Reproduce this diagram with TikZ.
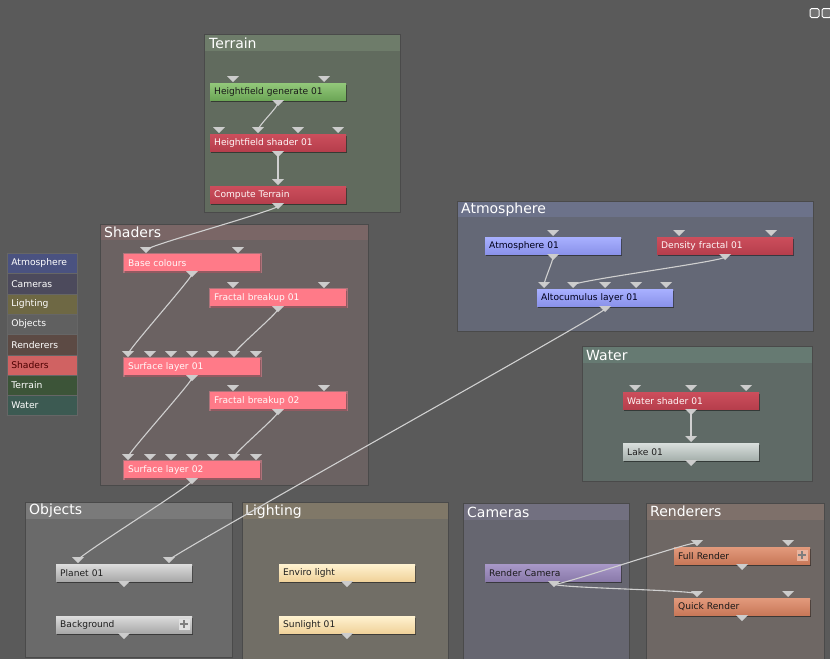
\documentclass[tikz,border=0pt]{standalone}
\usepackage{fontspec}
\setmainfont{DejaVu Sans}
\usetikzlibrary{shadows}
\definecolor{bgc}{HTML}{5A5A5A}
\definecolor{linkc}{HTML}{D0D0D0}
\definecolor{portc}{HTML}{CCCCCC}
\definecolor{pborder}{HTML}{4A4A4A}
% panels
\definecolor{terH}{HTML}{6E7C6A}\definecolor{terB}{HTML}{616B5E}
\definecolor{shaH}{HTML}{7A6666}\definecolor{shaB}{HTML}{6B6262}
\definecolor{atmH}{HTML}{6C728A}\definecolor{atmB}{HTML}{646876}
\definecolor{watH}{HTML}{667A72}\definecolor{watB}{HTML}{5F6A66}
\definecolor{objH}{HTML}{7A7A7A}\definecolor{objB}{HTML}{6A6A6A}
\definecolor{ligH}{HTML}{807868}\definecolor{ligB}{HTML}{716E66}
\definecolor{camH}{HTML}{727080}\definecolor{camB}{HTML}{666670}
\definecolor{renH}{HTML}{7E706A}\definecolor{renB}{HTML}{6E6764}
% legend
\definecolor{lgAtm}{HTML}{4A5280}\definecolor{lgCam}{HTML}{4C4A5C}
\definecolor{lgLig}{HTML}{6E6844}\definecolor{lgObj}{HTML}{606060}
\definecolor{lgRen}{HTML}{5C4A44}\definecolor{lgSha}{HTML}{D06262}
\definecolor{lgTer}{HTML}{3C5438}\definecolor{lgWat}{HTML}{3C5A52}
% node colours
\definecolor{grT}{HTML}{92C87A}\definecolor{grB}{HTML}{6CA656}
\definecolor{rdT}{HTML}{CC4E5C}\definecolor{rdB}{HTML}{B63E4C}
\definecolor{pk}{HTML}{FF7A88}\definecolor{pkglow}{HTML}{FF8898}
\definecolor{blT}{HTML}{A8B0FF}\definecolor{blB}{HTML}{8A92EA}
\definecolor{lkT}{HTML}{D8DEDC}\definecolor{lkB}{HTML}{A6B0AC}
\definecolor{gyT}{HTML}{DCDCDC}\definecolor{gyB}{HTML}{A8A8A8}
\definecolor{ylT}{HTML}{FFF2D0}\definecolor{ylB}{HTML}{F0D29A}
\definecolor{puT}{HTML}{A898C8}\definecolor{puB}{HTML}{8A7AAA}
\definecolor{saT}{HTML}{E29A7C}\definecolor{saB}{HTML}{C87858}
\definecolor{plusc}{HTML}{7E7E7E}
\begin{document}
\begin{tikzpicture}[x=1pt,y=-1pt,
  nbox/.style={anchor=north west, minimum height=17pt, text width=128pt,
    inner xsep=4pt, inner ysep=0pt, align=left,
    font=\fontsize{9.1}{10}\selectfont,
    drop shadow={shadow xshift=1.2pt, shadow yshift=-1.8pt, opacity=0.45, fill=black}},
  green/.style={nbox, top color=grT, bottom color=grB, text=black!90},
  red/.style={nbox, top color=rdT, bottom color=rdB, text=white!88!pink},
  pinkn/.style={nbox, fill=pk, text=white!90!pink, preaction={draw=pkglow, line width=3pt, opacity=0.45}},
  blue/.style={nbox, top color=blT, bottom color=blB, text=black!90!blue},
  lake/.style={nbox, top color=lkT, bottom color=lkB, text=black!88},
  grey/.style={nbox, top color=gyT, bottom color=gyB, text=black!88},
  yell/.style={nbox, top color=ylT, bottom color=ylB, text=black!88},
  purp/.style={nbox, top color=puT, bottom color=puB, text=black!90},
  salm/.style={nbox, top color=saT, bottom color=saB, text=black!90},
  port/.style={inner sep=0pt, minimum width=12pt, minimum height=6pt,
    path picture={\fill[portc] (path picture bounding box.north west) -- (path picture bounding box.north east) -- (path picture bounding box.south) -- cycle;}},
  link/.style={draw=linkc, line width=1.1pt,
    to path={.. controls +(0,4) and +(0,-4) .. (\tikztotarget)}},
  ptitle/.style={anchor=west, text=white!95, inner sep=0pt, font=\fontsize{14}{15}\selectfont},
  legend/.style={anchor=north west, minimum height=20.3pt, text width=62pt, inner xsep=4pt,
    inner ysep=0pt, align=left, text=white!82, draw=black!60, line width=0.6pt,
    font=\fontsize{9.2}{10}\selectfont},
  plusbox/.style={inner sep=0pt, minimum size=11pt, fill=#1,
    path picture={\fill[plusc] ([xshift=-4pt,yshift=-1.3pt]path picture bounding box.center) rectangle ([xshift=4pt,yshift=1.3pt]path picture bounding box.center);
      \fill[plusc] ([xshift=-1.3pt,yshift=-4pt]path picture bounding box.center) rectangle ([xshift=1.3pt,yshift=4pt]path picture bounding box.center);}},
  winbtn/.style={inner sep=0pt, minimum size=9pt, fill=black!55, draw=white!75, line width=1pt, rounded corners=1.5pt}
]
\useasboundingbox (0,0) rectangle (830,659);
\fill[bgc] (0,0) rectangle (830,659);

% window buttons
\node[winbtn] (btnA) at (814.5,13) {};
\node[winbtn] (btnB) at (826.5,13) {};

% ---------- panels ----------
% Terrain
\fill[terB] (204,34) rectangle (400,212);
\fill[terH] (204,34) rectangle (400,51);
\draw[pborder] (204,34) rectangle (400,212);
\node[ptitle] (tTerrain) at (209,43) {Terrain};
% Shaders
\fill[shaB] (100,224) rectangle (368,485);
\fill[shaH] (100,224) rectangle (368,240);
\draw[pborder] (100,224) rectangle (368,485);
\node[ptitle] (tShaders) at (104,232.5) {Shaders};
% Atmosphere
\fill[atmB] (457,201) rectangle (813,331);
\fill[atmH] (457,201) rectangle (813,217);
\draw[pborder] (457,201) rectangle (813,331);
\node[ptitle] (tAtmosphere) at (461,209.5) {Atmosphere};
% Water
\fill[watB] (582,346) rectangle (812,481);
\fill[watH] (582,346) rectangle (812,363);
\draw[pborder] (582,346) rectangle (812,481);
\node[ptitle] (tWater) at (586,355) {Water};
% Objects
\fill[objB] (25,502) rectangle (232,657);
\fill[objH] (25,502) rectangle (232,519);
\draw[pborder] (25,502) rectangle (232,657);
\node[ptitle] (tObjects) at (29,511) {Objects};
% Lighting
\fill[ligB] (242,502) rectangle (448,659);
\fill[ligH] (242,502) rectangle (448,519);
\draw[pborder] (242,659) -- (242,502) -- (448,502) -- (448,659);
\node[ptitle] (tLighting) at (245,512) {Lighting};
% Cameras
\fill[camB] (463,503) rectangle (629,659);
\fill[camH] (463,503) rectangle (629,520);
\draw[pborder] (463,659) -- (463,503) -- (629,503) -- (629,659);
\node[ptitle] (tCameras) at (467,512) {Cameras};
% Renderers
\fill[renB] (646,503) rectangle (824,659);
\fill[renH] (646,503) rectangle (824,520);
\draw[pborder] (646,659) -- (646,503) -- (824,503) -- (824,659);
\node[ptitle] (tRenderers) at (650,511.5) {Renderers};

% ---------- legend ----------
\node[legend, fill=lgAtm] (lgA) at (7,253) {Atmosphere};
\node[legend, fill=lgCam] (lgC) at (7,273.3) {Cameras};
\node[legend, fill=lgLig] (lgL) at (7,293.6) {Lighting};
\node[legend, fill=lgObj] (lgO) at (7,313.9) {Objects};
\node[legend, fill=lgRen] (lgR) at (7,334.2) {Renderers};
\node[legend, fill=lgSha, text=black!70!red] (lgS) at (7,354.5) {Shaders};
\node[legend, fill=lgTer] (lgT) at (7,374.8) {Terrain};
\node[legend, fill=lgWat] (lgW) at (7,395.1) {Water};

% ---------- nodes ----------
% Terrain
\node[green] (hfgen) at (210,83) {Heightfield generate 01};
\node[red] (hfsh) at (210,134) {Heightfield shader 01};
\node[red] (comp) at (210,186) {Compute Terrain};
% Shaders
\node[pinkn] (base) at (124,254) {Base colours};
\node[pinkn] (fb1) at (210,289) {Fractal breakup 01};
\node[pinkn] (sl1) at (124,358) {Surface layer 01};
\node[pinkn] (fb2) at (210,392) {Fractal breakup 02};
\node[pinkn] (sl2) at (124,461) {Surface layer 02};
% Atmosphere
\node[blue] (atm1) at (485,237) {Atmosphere 01};
\node[red] (dens) at (657,237) {Density fractal 01};
\node[blue] (alto) at (537,289) {Altocumulus layer 01};
% Water
\node[red] (wsh) at (623,392) {Water shader 01};
\node[lake] (lake) at (623,443) {Lake 01};
% Objects
\node[grey] (planet) at (56,564) {Planet 01};
\node[grey] (bgnd) at (56,616) {Background};
\node[plusbox=gyT!90!white] (bgplus) at (184,624) {};
% Lighting
\node[yell] (env) at (279,564) {Enviro light};
\node[yell] (sun) at (279,616) {Sunlight 01};
% Cameras
\node[purp] (rcam) at (485,564) {Render Camera};
% Renderers
\node[salm] (full) at (674,547) {Full Render};
\node[plusbox=saT!75!white] (fullplus) at (802,555) {};
\node[salm] (quick) at (674,598) {Quick Render};

% ---------- ports ----------
\node[port] (hfgen-i1) at (233,79) {};
\node[port] (hfgen-i2) at (324,79) {};
\node[port] (hfgen-o) at (278,103) {};
\node[port] (hfsh-i1) at (219,130) {};
\node[port] (hfsh-i2) at (258,130) {};
\node[port] (hfsh-i3) at (298,130) {};
\node[port] (hfsh-i4) at (338,130) {};
\node[port] (hfsh-o) at (278,154) {};
\node[port] (comp-i) at (278,182) {};
\node[port] (comp-o) at (278,206) {};

\node[port] (base-i1) at (146,250) {};
\node[port] (base-i2) at (238,250) {};
\node[port] (base-o) at (192,274) {};
\node[port] (fb1-i1) at (233,285) {};
\node[port] (fb1-i2) at (324,285) {};
\node[port] (fb1-o) at (278,309) {};
\foreach \i/\x in {1/128,2/150,3/171,4/192,5/213,6/234,7/256}{
  \node[port] (sl1-i\i) at (\x,354) {};
  \node[port] (sl2-i\i) at (\x,457) {};
}
\node[port] (sl1-o) at (192,378) {};
\node[port] (fb2-i1) at (233,388) {};
\node[port] (fb2-i2) at (324,388) {};
\node[port] (fb2-o) at (278,412) {};
\node[port] (sl2-o) at (192,481) {};

\node[port] (atm1-i) at (553,233) {};
\node[port] (atm1-o) at (553,257) {};
\node[port] (dens-i1) at (679,233) {};
\node[port] (dens-i2) at (771,233) {};
\node[port] (dens-o) at (725,257) {};
\foreach \i/\x in {1/544,2/573,3/605,4/636,5/666}{
  \node[port] (alto-i\i) at (\x,285) {};
}
\node[port] (alto-o) at (605,309) {};

\node[port] (wsh-i1) at (635,388) {};
\node[port] (wsh-i2) at (691,388) {};
\node[port] (wsh-i3) at (746,388) {};
\node[port] (wsh-o) at (691,412) {};
\node[port] (lake-i) at (691,439) {};
\node[port] (lake-o) at (691,463) {};

\node[port] (planet-i1) at (78,560) {};
\node[port] (planet-i2) at (169,560) {};
\node[port] (planet-o) at (124,584) {};
\node[port] (bgnd-o) at (124,636) {};
\node[port] (env-o) at (347,584) {};
\node[port] (sun-o) at (347,636) {};
\node[port] (rcam-o) at (554,584) {};
\node[port] (full-i1) at (697,543) {};
\node[port] (full-i2) at (788,543) {};
\node[port] (full-o) at (742,567) {};
\node[port] (quick-i1) at (697,594) {};
\node[port] (quick-i2) at (788,594) {};
\node[port] (quick-o) at (742,618) {};

% ---------- links ----------
\draw[link] (hfgen-o.center) to (hfsh-i2.center);
\draw[link] (hfsh-o.center) to (comp-i.center);
\draw[link] (comp-o.center) to (base-i1.center);
\draw[link] (base-o.center) to (sl1-i1.center);
\draw[link] (fb1-o.center) to (sl1-i6.center);
\draw[link] (sl1-o.center) to (sl2-i1.center);
\draw[link] (fb2-o.center) to (sl2-i6.center);
\draw[link] (sl2-o.center) to (planet-i1.center);
\draw[link] (alto-o.center) to (planet-i2.center);
\draw[link] (atm1-o.center) to (alto-i1.center);
\draw[link] (dens-o.center) to (alto-i2.center);
\draw[link] (wsh-o.center) to (lake-i.center);
\draw[link] (rcam-o.center) to (full-i1.center);
\draw[link] (rcam-o.center) to (quick-i1.center);
\end{tikzpicture}
\end{document}
